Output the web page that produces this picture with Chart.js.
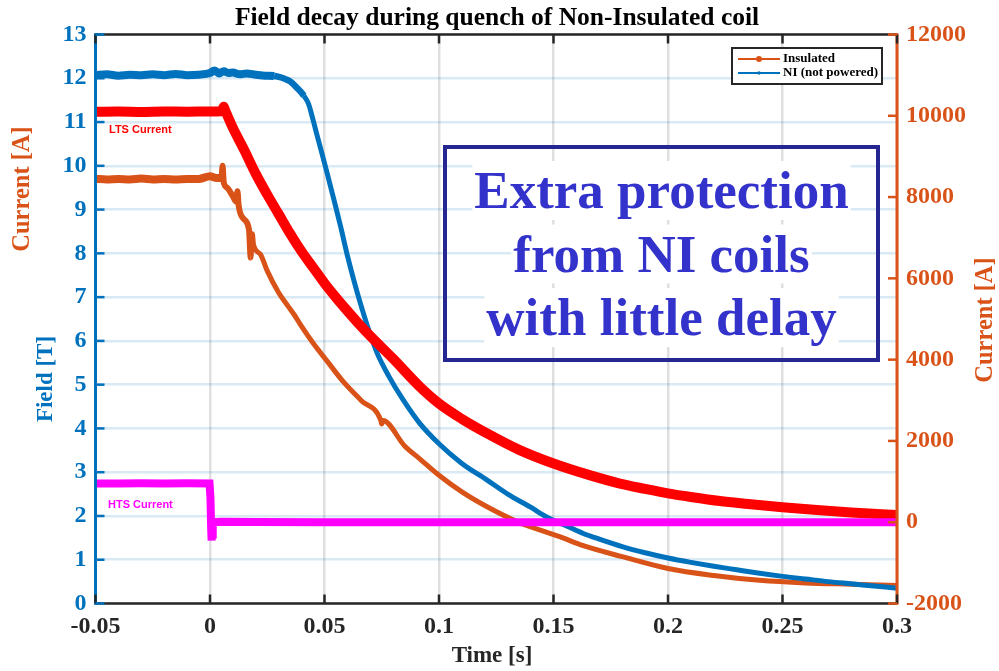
<!DOCTYPE html>
<html>
<head>
<meta charset="utf-8">
<script src="https://cdn.jsdelivr.net/npm/chart.js@4.4.1/dist/chart.umd.min.js"></script>
<style>
html,body{margin:0;padding:0;background:#fff;}
canvas{display:block;}
</style>
</head>
<body>
<canvas id="c" width="999" height="671"></canvas>
<script>
// ---------------- data ----------------
const xTicks = [-0.05, 0, 0.05, 0.1, 0.15, 0.2, 0.25, 0.3];
const xTickLabels = ['-0.05', '0', '0.05', '0.1', '0.15', '0.2', '0.25', '0.3'];
const yTicks = [0,1,2,3,4,5,6,7,8,9,10,11,12,13];
const yTickLabels = ['0','1','2','3','4','5','6','7','8','9','10','11','12','13'];
const y2Ticks = [-2000, 0, 2000, 4000, 6000, 8000, 10000, 12000];
const y2TickLabels = ['-2000','0','2000','4000','6000','8000','10000','12000'];

// NI (not powered) field [T]
const niTime = [-0.05,-0.045,-0.04,-0.035,-0.03,-0.025,-0.02,-0.015,-0.01,-0.005,0,0.002,0.004,0.006,0.008,0.01,0.013,0.016,0.02,0.024,0.028,0.03,0.032,0.035,0.038,0.041,0.043,0.045,0.047,0.049,0.051,0.054,0.057,0.06,0.063,0.066,0.069,0.073,0.078,0.084,0.0917,0.1,0.11,0.121,0.13,0.14,0.147,0.157,0.163,0.17,0.18,0.19,0.2,0.21,0.22,0.23,0.24,0.25,0.26,0.27,0.28,0.29,0.3];
const niField = [12.07,12.09,12.06,12.08,12.07,12.09,12.07,12.1,12.07,12.08,12.12,12.18,12.11,12.16,12.12,12.13,12.09,12.11,12.08,12.06,12.05,12.03,12.0,11.93,11.78,11.6,11.42,11.05,10.65,10.26,9.86,9.25,8.62,7.95,7.35,6.8,6.3,5.72,5.2,4.68,4.11,3.65,3.2,2.82,2.5,2.2,1.98,1.74,1.6,1.47,1.3,1.16,1.04,0.94,0.85,0.77,0.69,0.62,0.56,0.5,0.45,0.4,0.35];

// Insulated field [T]
const insTime = [-0.05,-0.045,-0.04,-0.035,-0.03,-0.025,-0.02,-0.015,-0.01,-0.005,0,0.003,0.005,0.0055,0.006,0.0075,0.01,0.0115,0.012,0.0125,0.0145,0.017,0.0178,0.0185,0.019,0.022,0.025,0.03,0.034,0.037,0.04,0.045,0.0514,0.058,0.066,0.0745,0.075,0.0755,0.085,0.0917,0.1,0.11,0.121,0.135,0.153,0.163,0.18,0.2,0.22,0.24,0.26,0.28,0.3];
const insField = [9.7,9.69,9.7,9.69,9.71,9.69,9.7,9.69,9.7,9.7,9.76,9.72,9.72,10.0,9.62,9.5,9.3,9.18,9.42,9.1,8.8,8.55,7.9,8.45,8.2,7.98,7.6,7.1,6.8,6.58,6.33,5.95,5.52,5.08,4.64,4.2,4.1,4.18,3.6,3.3,2.93,2.55,2.21,1.85,1.52,1.32,1.07,0.8,0.64,0.53,0.47,0.44,0.41];

// LTS current [A]
const ltsTime = [-0.05,-0.04,-0.03,-0.02,-0.01,0,0.005,0.006,0.0065,0.01,0.015,0.02,0.025,0.03,0.035,0.04,0.045,0.05,0.055,0.06,0.065,0.07,0.08,0.0917,0.1,0.11,0.121,0.135,0.15,0.165,0.179,0.19,0.2,0.21,0.2227,0.235,0.25,0.265,0.28,0.3];
const ltsCurrent = [10100,10105,10095,10105,10100,10105,10110,10220,10150,9700,9150,8570,8060,7580,7100,6660,6270,5880,5530,5200,4880,4580,4020,3330,2920,2540,2184,1780,1444,1170,951,820,710,620,520,450,370,300,240,178];

// HTS current [A]
const htsTime = [-0.05,-0.04,-0.03,-0.02,-0.01,-0.0002,0.0002,0.0005,0.0007,0.0009,0.0012,0.005,0.02,0.05,0.1,0.15,0.2,0.25,0.3];
const htsCurrent = [955,955,958,953,956,955,600,-150,-450,-300,0,10,5,0,0,0,0,0,0];

// ---------------- chart ----------------
const SERIF = "'Liberation Serif','Times New Roman',serif";
const SANS = "'Liberation Sans',Arial,sans-serif";
const BLUE = '#0072BD', ORANGE = '#D95319', RED = '#FF0000', MAG = '#FF00FF', DARK = '#262626';

function pts(t, v){ return t.map((x,i)=>({x:x, y:v[i]})); }
function setTicks(vals){ return function(scale){ scale.ticks = vals.map(v=>({value:v})); }; }
function noisyWidth(limit, wide, mid, thin){ return ctx => (ctx.p1.parsed.x <= limit ? wide : (ctx.p0.parsed.x <= limit + 0.012 ? mid : thin)); }

function line(ctx,x1,y1,x2,y2,c,w){ ctx.beginPath(); ctx.strokeStyle=c; ctx.lineWidth=w; ctx.moveTo(x1,y1); ctx.lineTo(x2,y2); ctx.stroke(); }

const deco = {
  id:'deco',
  afterDraw(chart){
    const ctx = chart.ctx, a = chart.chartArea;
    const sx = chart.scales.x, sy = chart.scales.y, sy2 = chart.scales.y2;
    ctx.save();
    // annotation box
    const bx=445, by=147, bw=433, bh=213;
    const lines = ['Extra protection','from NI coils','with little delay'];
    const base = [208, 271.5, 335];
    ctx.font = 'bold 53px ' + SERIF;
    ctx.textAlign='center'; ctx.textBaseline='alphabetic';
    lines.forEach((s,i)=>{
      const w = ctx.measureText(s).width;
      ctx.fillStyle='#fff';
      ctx.fillRect(661.5 - w/2 - 2, base[i]-47, w+4, 59);
    });
    ctx.fillStyle='#3333CC';
    lines.forEach((s,i)=>ctx.fillText(s, 661.5, base[i]));
    ctx.strokeStyle='#262693'; ctx.lineWidth=4;
    ctx.strokeRect(bx,by,bw,bh);

    // axes lines
    line(ctx,a.left,a.top,a.right,a.top,DARK,2.5);
    line(ctx,a.left,a.bottom,a.right,a.bottom,DARK,2.5);
    line(ctx,a.left,a.top-1.2,a.left,a.bottom+1.2,BLUE,3);
    line(ctx,a.right,a.top-1.2,a.right,a.bottom+1.2,ORANGE,3);
    // tick marks (inward)
    sx.ticks.forEach(t=>{ const p=sx.getPixelForValue(t.value);
      line(ctx,p,a.bottom,p,a.bottom-9,DARK,2.5); line(ctx,p,a.top,p,a.top+9,DARK,2.5); });
    sy.ticks.forEach(t=>{ const p=sy.getPixelForValue(t.value); line(ctx,a.left,p,a.left+9,p,BLUE,2.5); });
    sy2.ticks.forEach(t=>{ const p=sy2.getPixelForValue(t.value); line(ctx,a.right,p,a.right-9,p,ORANGE,2.5); });

    // title
    ctx.fillStyle='#000'; ctx.textAlign='center'; ctx.textBaseline='alphabetic';
    ctx.font='bold 25.5px ' + SERIF;
    ctx.fillText('Field decay during quench of Non-Insulated coil', 497, 25);
    // x title
    ctx.textBaseline='middle';
    ctx.fillStyle=DARK; ctx.font='bold 23px ' + SERIF;
    ctx.fillText('Time [s]', 492, 656);
    // left / right titles
    function vtext(s,x,y,c,rot){ ctx.save(); ctx.translate(x,y); ctx.rotate(rot); ctx.fillStyle=c; ctx.fillText(s,0,0); ctx.restore(); }
    ctx.font='bold 24.5px ' + SERIF;
    vtext('Current [A]', 23, 189, ORANGE, -Math.PI/2);
    vtext('Current [A]', 986, 320, ORANGE, -Math.PI/2);
    ctx.font='bold 23px ' + SERIF;
    vtext('Field [T]', 46, 379, BLUE, -Math.PI/2);

    // series labels
    ctx.textAlign='left'; ctx.textBaseline='alphabetic';
    ctx.font='bold 11px ' + SANS;
    ctx.fillStyle=RED; ctx.fillText('LTS Current', 109, 133);
    ctx.fillStyle=MAG; ctx.fillText('HTS Current', 108, 508);

    // legend
    const lx=732, ly=48, lw=150, lh=36;
    ctx.fillStyle='#fff'; ctx.fillRect(lx,ly,lw,lh);
    ctx.strokeStyle=DARK; ctx.lineWidth=2; ctx.strokeRect(lx,ly,lw,lh);
    const items = [{label:'Insulated', c:ORANGE, r:3, y:59}, {label:'NI (not powered)', c:BLUE, r:1.8, y:73}];
    items.forEach(it=>{
      line(ctx,738,it.y,780,it.y,it.c,1.8);
      ctx.beginPath(); ctx.fillStyle=it.c; ctx.arc(759,it.y,it.r,0,Math.PI*2); ctx.fill();
      ctx.fillStyle='#000'; ctx.font='bold 13px ' + SERIF; ctx.textBaseline='middle';
      ctx.fillText(it.label, 783, it.y);
    });
    ctx.restore();
  }
};

new Chart(document.getElementById('c'), {
  type:'line',
  data:{ datasets:[
    {label:'HTS Current', data:pts(htsTime,htsCurrent), yAxisID:'y2', borderColor:MAG, borderWidth:8, pointRadius:0, tension:0},
    {label:'LTS Current', data:pts(ltsTime,ltsCurrent), yAxisID:'y2', borderColor:RED, borderWidth:10, pointRadius:0, cubicInterpolationMode:'monotone'},
    {label:'NI (not powered)', data:pts(niTime,niField), yAxisID:'y', borderColor:BLUE, borderWidth:5, pointRadius:0, cubicInterpolationMode:'monotone',
      segment:{borderWidth:noisyWidth(0.028, 8, 6.5, 5)}},
    {label:'Insulated', data:pts(insTime,insField), yAxisID:'y', borderColor:ORANGE, borderWidth:5, pointRadius:0, cubicInterpolationMode:'monotone',
      segment:{borderWidth:noisyWidth(0.0052, 8, 6, 5)}}
  ]},
  options:{
    responsive:false, animation:false,
    layout:{padding:{top:34.5, left:0, right:0, bottom:0}},
    plugins:{legend:{display:false}, tooltip:{enabled:false}, title:{display:false}},
    scales:{
      x:{type:'linear', min:-0.05, max:0.3, afterBuildTicks:setTicks(xTicks),
         afterFit:s=>{s.height=67.5;},
         ticks:{callback:(v,i)=>xTickLabels[i], color:DARK, font:{family:SERIF, size:24, weight:'bold'}, padding:9, maxRotation:0, autoSkip:false},
         grid:{color:'rgba(38,38,38,0.15)', lineWidth:2.5, drawTicks:false}, border:{display:false}},
      y:{type:'linear', position:'left', min:0, max:13, afterBuildTicks:setTicks(yTicks),
         afterFit:s=>{s.width=95.5;},
         ticks:{callback:(v,i)=>yTickLabels[i], color:BLUE, font:{family:SERIF, size:24, weight:'bold'}, padding:9, autoSkip:false},
         grid:{color:'rgba(0,114,189,0.15)', lineWidth:2.5, drawTicks:false}, border:{display:false}},
      y2:{type:'linear', position:'right', min:-2000, max:12000, afterBuildTicks:setTicks(y2Ticks),
         afterFit:s=>{s.width=102;},
         ticks:{callback:(v,i)=>y2TickLabels[i], color:ORANGE, font:{family:SERIF, size:24, weight:'bold'}, padding:9, autoSkip:false},
         grid:{display:false, drawTicks:false}, border:{display:false}}
    }
  },
  plugins:[deco]
});
</script>
</body>
</html>
